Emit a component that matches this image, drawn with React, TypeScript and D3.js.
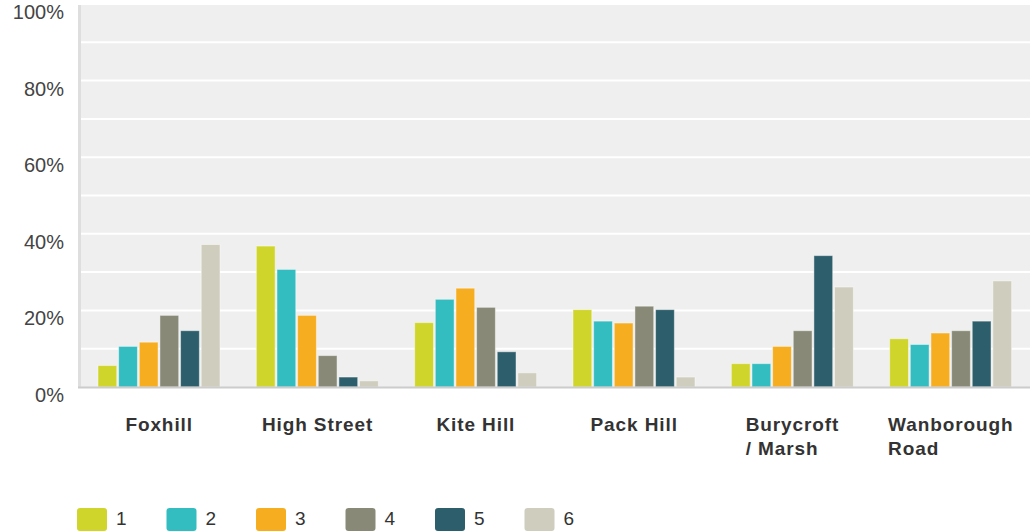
import React, { useEffect, useRef } from "react";
import * as d3 from "d3";

const categories = ["Foxhill", "High Street", "Kite Hill", "Pack Hill", "Burycroft\n/ Marsh", "Wanborough\nRoad"];
const seriesNames = ["1", "2", "3", "4", "5", "6"];
const seriesColors = ["#cfd52a", "#33bdc0", "#f6ad20", "#888976", "#2d5e6b", "#cfcdbd"];
const s1 = [5.6, 36.8, 16.8, 20.2, 6.1, 12.6];
const s2 = [10.6, 30.7, 22.9, 17.2, 6.1, 11.1];
const s3 = [11.7, 18.7, 25.8, 16.7, 10.6, 14.1];
const s4 = [18.7, 8.2, 20.8, 21.1, 14.7, 14.7];
const s5 = [14.7, 2.6, 9.2, 20.2, 34.3, 17.2];
const s6 = [37.2, 1.6, 3.7, 2.6, 26.1, 27.7];
const seriesValues = [s1, s2, s3, s4, s5, s6];
const yTickLabels = [0, 20, 40, 60, 80, 100];
const gridValues = [10, 20, 30, 40, 50, 60, 70, 80, 90];

const W = 1030, H = 532;
const FONT = "'Liberation Sans', Arial, sans-serif";

export default function App() {
  const ref = useRef<SVGSVGElement>(null);
  useEffect(() => {
    const svg = d3.select(ref.current);
    svg.selectAll("*").remove();
    const left = 80, right = 1030, top = 4, bottom = 387;
    const x0 = d3.scaleBand<string>().domain(categories).range([left, right]);
    const x1 = d3.scaleBand<string>().domain(seriesNames).range([18, 140]).paddingInner(0.09);
    const y = d3.scaleLinear().domain([0, 100]).range([bottom, top]);

    svg.append("rect").attr("x", left).attr("y", top + 1).attr("width", right - left).attr("height", bottom - top - 1).attr("fill", "#efefef");
    svg.append("rect").attr("x", left - 2).attr("y", top + 1).attr("width", 3).attr("height", bottom - top).attr("fill", "#dedede");

    svg.append("g").selectAll("line").data(gridValues).join("line")
      .attr("x1", left + 1).attr("x2", right)
      .attr("y1", d => y(d)).attr("y2", d => y(d))
      .attr("stroke", "#ffffff").attr("stroke-width", 2);

    svg.append("g").selectAll("text").data(yTickLabels).join("text")
      .attr("x", 64).attr("y", d => y(d) + 15)
      .attr("text-anchor", "end")
      .attr("font-family", FONT).attr("font-size", 20).attr("fill", "#444")
      .text(d => d + "%");

    const g = svg.append("g");
    categories.forEach((c, ci) => {
      seriesNames.forEach((s, si) => {
        const v = seriesValues[si][ci];
        g.append("rect")
          .attr("x", (x0(c) as number) + (x1(s) as number))
          .attr("y", y(v))
          .attr("width", x1.bandwidth())
          .attr("height", y(0) - y(v))
          .attr("fill", seriesColors[si])
          .attr("stroke", "rgba(255,255,255,0.45)")
          .attr("stroke-width", 1);
      });
    });

    svg.append("line").attr("x1", left - 2).attr("x2", right).attr("y1", bottom + 0.5).attr("y2", bottom + 0.5)
      .attr("stroke", "#cccccc").attr("stroke-width", 2);

    categories.forEach(c => {
      const lines = c.split("\n");
      const cx = (x0(c) as number) + x0.bandwidth() / 2;
      const t = svg.append("text")
        .attr("font-family", FONT).attr("font-size", 19).attr("font-weight", "bold")
        .attr("letter-spacing", 0.9).attr("fill", "#333");
      const first = t.append("tspan").attr("x", cx).attr("y", 431).text(lines[0]);
      const w = (first.node() as SVGTextContentElement).getComputedTextLength();
      const startX = cx - w / 2;
      first.attr("x", startX);
      lines.slice(1).forEach((ln, i) => {
        t.append("tspan").attr("x", startX).attr("y", 431 + 24 * (i + 1)).text(ln);
      });
    });

    const lg = svg.append("g");
    seriesNames.forEach((s, i) => {
      const lx = 77 + i * 89.5;
      lg.append("rect").attr("x", lx).attr("y", 508).attr("width", 30).attr("height", 23).attr("rx", 3)
        .attr("fill", seriesColors[i]);
      lg.append("text").attr("x", lx + 39).attr("y", 525)
        .attr("font-family", FONT).attr("font-size", 19).attr("fill", "#333").text(s);
    });
  }, []);
  return (
    <div style={{ position: "absolute", left: 0, top: 0 }}>
      <svg ref={ref} width={W} height={H} style={{ display: "block", background: "#fff" }} />
    </div>
  );
}
